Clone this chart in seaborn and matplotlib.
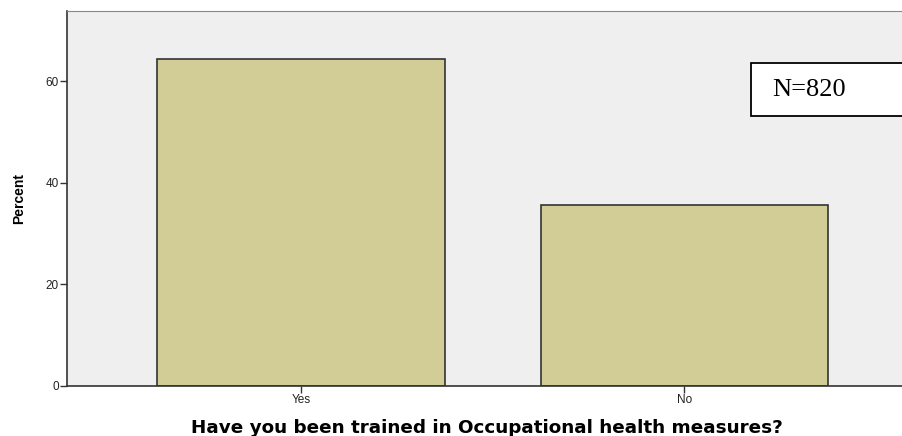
import pandas as pd
import matplotlib.pyplot as plt
from matplotlib.patches import Rectangle
import seaborn as sns

# answers and percent of respondents
answers = ['Yes', 'No']
percent = [64.3, 35.7]
n_total = 820

data = pd.DataFrame({'answer': answers, 'percent': percent})

sns.set_style('white')
plt.rcParams['font.family'] = ['Liberation Sans', 'DejaVu Sans']
fig = plt.figure(figsize=(9.03, 4.36), dpi=100)
ax = fig.add_axes([0.0742, 0.1147, 0.93, 0.8603])
ax.set_facecolor('#efefef')

sns.barplot(x='answer', y='percent', data=data, color='#d2cd96', saturation=1,
            width=0.75, edgecolor='#333333', linewidth=1.2, ax=ax)

ax.set_xlim(-0.61, 1.58)
ax.set_ylim(0, 73.8)
ax.set_yticks([0, 20, 40, 60])
ax.tick_params(axis='both', direction='out', length=5, width=1, color='#333333',
               labelsize=8.5, pad=1, left=True, bottom=True, labelcolor='#222222')
for s in ['left', 'bottom']:
    ax.spines[s].set_color('#333333')
    ax.spines[s].set_linewidth(1.2)
ax.spines['top'].set_color('#888888')
ax.spines['right'].set_visible(False)

ax.set_ylabel('Percent', fontsize=10, fontweight='bold', family=['Liberation Sans Narrow', 'Liberation Sans'],
              labelpad=14, color='black')
xl = ax.set_xlabel('Have you been trained in Occupational health measures?',
                   fontsize=11.5, fontweight='bold', family='DejaVu Sans', color='black',
                   va='baseline')
ax.xaxis.set_label_coords(0.5, -0.1253)

# size the axis title so it spans roughly the original width (~600 px)
fig.canvas.draw()
w = xl.get_window_extent().width
xl.set_fontsize(11.5 * 595 / w)

# N box, runs off the right edge like the original
W, H = 903, 436
fig.patches.append(Rectangle((751 / W, 1 - 116 / H), 170 / W, 53 / H, transform=fig.transFigure,
                             facecolor='white', edgecolor='black', linewidth=1.3, zorder=5))
fig.text(772 / W, 1 - 90 / H, f'N={n_total}', fontsize=19, family='Liberation Serif',
         color='black', va='center', ha='left', zorder=6)

plt.savefig('out.png', dpi=100)
